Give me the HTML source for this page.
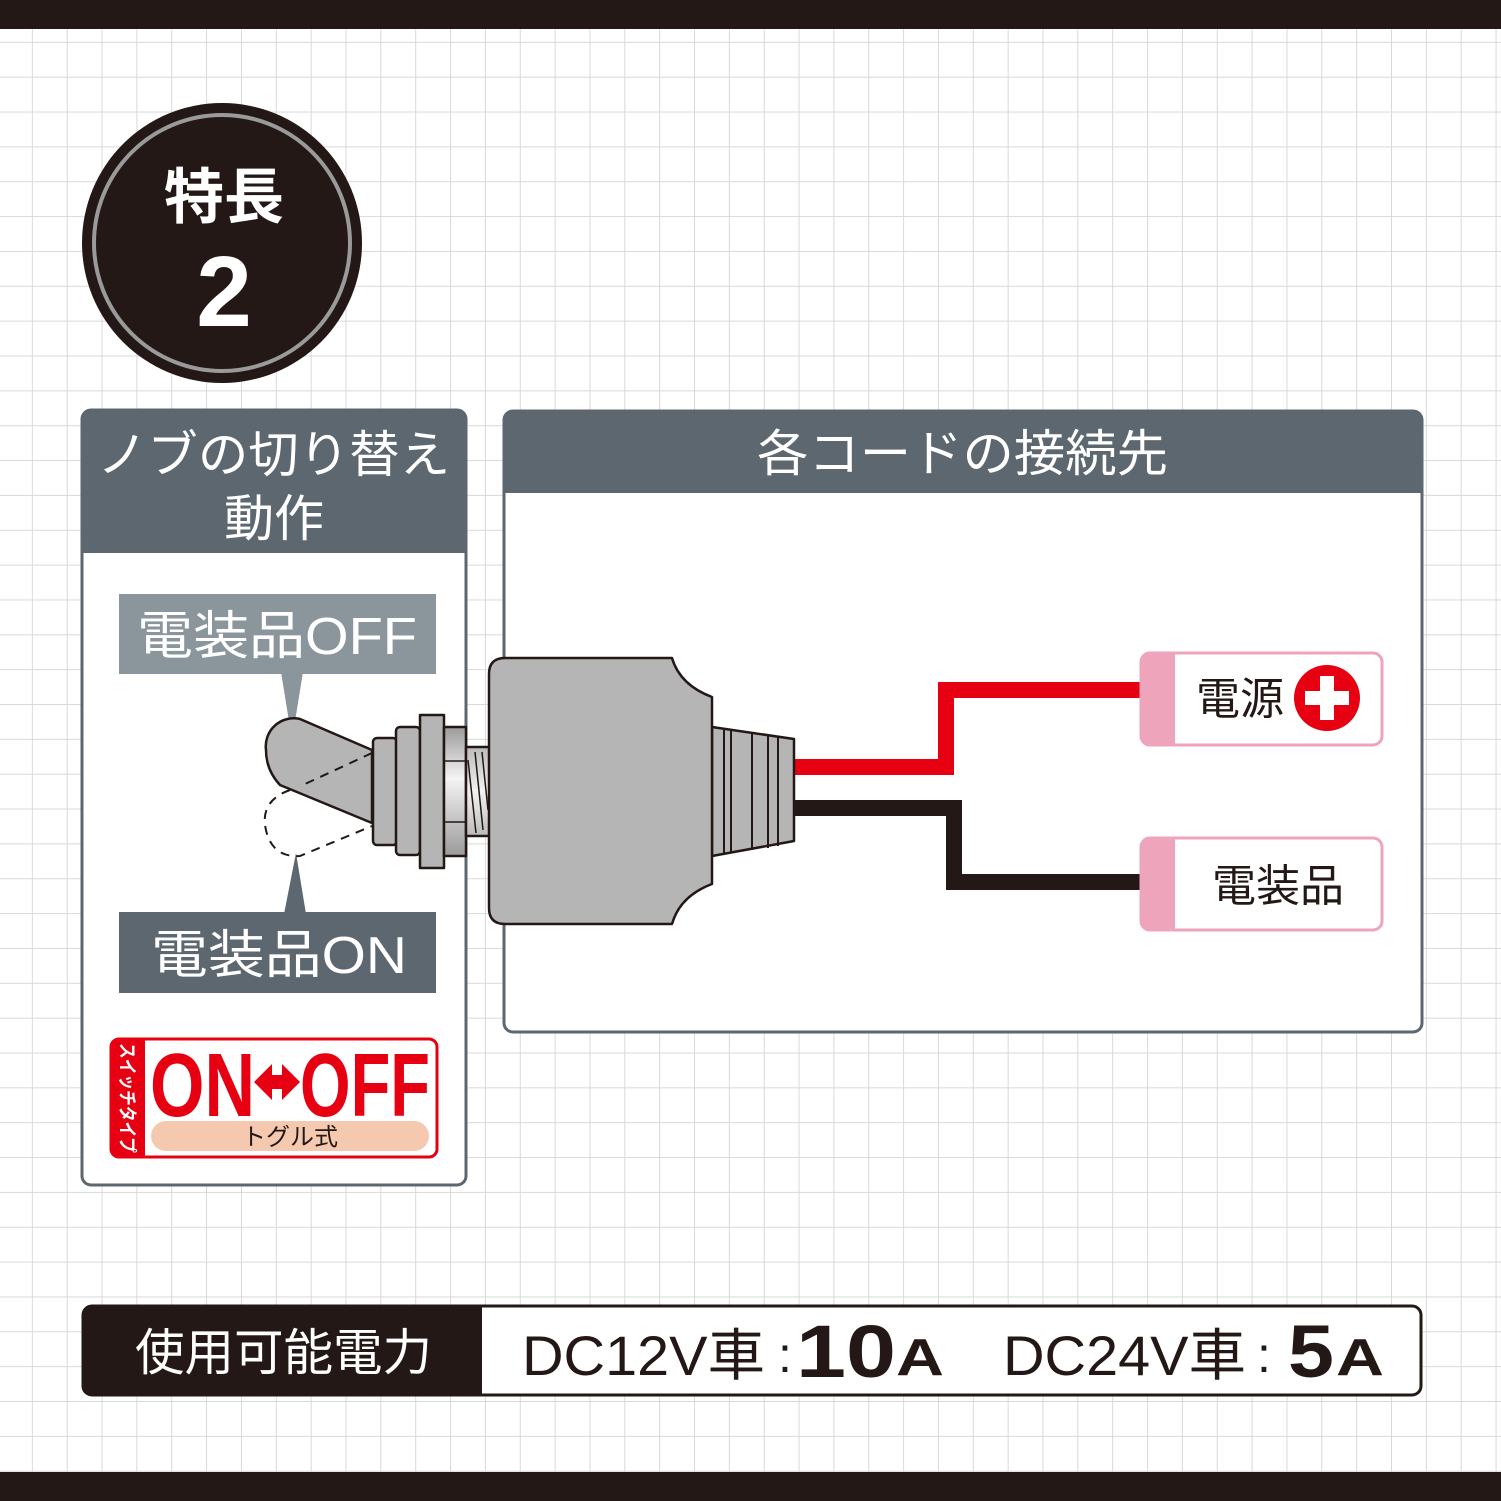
<!DOCTYPE html>
<html><head><meta charset="utf-8"><style>html,body{margin:0;padding:0;background:#fff}svg{display:block}</style></head>
<body>
<svg width="1501" height="1501" viewBox="0 0 1501 1501" xmlns="http://www.w3.org/2000/svg" font-family="'Liberation Sans','Noto Sans CJK JP',sans-serif">
<defs>
<pattern id="g" x="-3" y="7" width="34.85" height="34.85" patternUnits="userSpaceOnUse">
<path d="M0 0H34.85M0 0V34.85" stroke="#d9d9d9" stroke-width="2" fill="none"/>
</pattern>
<linearGradient id="hx" x1="0" y1="0" x2="0" y2="1"><stop offset="0" stop-color="#9a9a9a"/><stop offset="0.4" stop-color="#f4f4f4"/><stop offset="1" stop-color="#9a9a9a"/></linearGradient>
<linearGradient id="th" x1="0" y1="0" x2="0" y2="1"><stop offset="0" stop-color="#bbb"/><stop offset="0.5" stop-color="#f2f2f2"/><stop offset="1" stop-color="#bbb"/></linearGradient>
</defs>
<rect width="1501" height="1501" fill="#fff"/>
<rect width="1501" height="1501" fill="url(#g)"/>
<rect x="0" y="0" width="1501" height="29" fill="#231815"/>
<rect x="0" y="1472" width="1501" height="29" fill="#231815"/>

<circle cx="222" cy="243" r="140" fill="#231815"/>
<circle cx="222" cy="243" r="128" fill="none" stroke="#9a9a9a" stroke-width="4"/>
<text x="224" y="218" font-size="60" font-weight="bold" fill="#fff" text-anchor="middle">特長</text>
<text x="224" y="326" font-size="100" font-weight="bold" fill="#fff" text-anchor="middle">2</text>

<rect x="82" y="410" width="384" height="775" rx="9" fill="#fff" stroke="#5d676f" stroke-width="3"/>
<path d="M82 553V419a9 9 0 0 1 9-9h366a9 9 0 0 1 9 9V553z" fill="#5d676f"/>
<text x="97" y="472" font-size="50" fill="#fff" textLength="353" lengthAdjust="spacingAndGlyphs">ノブの切り替え</text>
<text x="274" y="536" font-size="50" fill="#fff" text-anchor="middle">動作</text>

<rect x="504" y="411" width="918" height="621" rx="9" fill="#fff" stroke="#5d676f" stroke-width="3"/>
<path d="M503 493V419a9 9 0 0 1 9-9h902a9 9 0 0 1 9 9V493z" fill="#5d676f"/>
<text x="757" y="471" font-size="50" fill="#fff" textLength="411" lengthAdjust="spacingAndGlyphs">各コードの接続先</text>

<rect x="119" y="594" width="317" height="80" fill="#8a959c"/>
<text x="277" y="654" font-size="52" fill="#fff" text-anchor="middle" textLength="280" lengthAdjust="spacingAndGlyphs">電装品OFF</text>
<path d="M281 672L303 672L292 740Z" fill="#8a959c"/>
<rect x="119" y="912" width="317" height="81" fill="#5d676f"/>
<text x="279" y="973" font-size="52" fill="#fff" text-anchor="middle" textLength="256" lengthAdjust="spacingAndGlyphs">電装品ON</text>
<path d="M284 914L306 914L296 853Z" fill="#5d676f"/>

<path d="M790 767H946V690H1142" fill="none" stroke="#e60012" stroke-width="16"/>
<path d="M790 808H954V882H1142" fill="none" stroke="#231815" stroke-width="16"/>

<g stroke="#231815" stroke-width="2.5" stroke-linejoin="round">
<path d="M372 750L300 719A28 28 0 0 0 266 750Q266 770 280 785L372 823Z" fill="#b5b5b5"/>
<g fill="none" stroke-dasharray="9 7" stroke-width="2">
<path d="M372 753L305 784"/>
<path d="M290 790Q262 800 265 825Q270 858 300 856L372 826"/>
</g>
<rect x="373" y="738" width="24" height="107" rx="4" fill="#b5b5b5"/>
<rect x="396" y="727" width="24" height="128" rx="4" fill="#b5b5b5"/>
<rect x="420" y="715" width="24" height="153" fill="#b5b5b5"/>
<rect x="444" y="727" width="22" height="129" fill="url(#hx)"/>
<line x1="444" y1="761" x2="466" y2="761" stroke-width="1.5"/>
<line x1="444" y1="822" x2="466" y2="822" stroke-width="1.5"/>
<rect x="466" y="747" width="24" height="89" fill="url(#th)"/>
<g stroke-width="1.5"><line x1="468" y1="760" x2="476" y2="833"/><line x1="475" y1="752" x2="483" y2="830"/><line x1="482" y1="752" x2="488" y2="810"/></g>
<path d="M712 727L794 739L794 841L712 856Z" fill="#b5b5b5"/>
<g stroke-width="2"><line x1="724" y1="729" x2="724" y2="854"/><line x1="731" y1="730" x2="731" y2="853"/><line x1="752" y1="733" x2="752" y2="850"/><line x1="768" y1="735" x2="768" y2="848"/><line x1="778" y1="737" x2="778" y2="846"/></g>
<path d="M505 658H672Q680 685 712 697V884Q680 896 672 924H505Q489 924 489 908V674Q489 658 505 658Z" fill="#b5b5b5"/>
</g>

<g>
<rect x="1141" y="653" width="241" height="92" rx="9" fill="#fff" stroke="#eea4bb" stroke-width="3"/>
<path d="M1150 653H1175V745H1150A9 9 0 0 1 1141 736V662A9 9 0 0 1 1150 653Z" fill="#eea4bb"/>
<text x="1196" y="714" font-size="44" fill="#231815">電源</text>
<circle cx="1327" cy="698" r="33" fill="#e60012"/>
<rect x="1320" y="676" width="14" height="44" fill="#fff"/>
<rect x="1305" y="691" width="44" height="14" fill="#fff"/>
<rect x="1141" y="838" width="241" height="92" rx="9" fill="#fff" stroke="#eea4bb" stroke-width="3"/>
<path d="M1150 838H1175V930H1150A9 9 0 0 1 1141 921V847A9 9 0 0 1 1150 838Z" fill="#eea4bb"/>
<text x="1278" y="901" font-size="44" fill="#231815" text-anchor="middle">電装品</text>
</g>

<rect x="111" y="1039" width="326" height="118" rx="8" fill="#fff" stroke="#e60012" stroke-width="3"/>
<path d="M119 1039H145V1157H119A8 8 0 0 1 111 1149V1047A8 8 0 0 1 119 1039Z" fill="#e60012"/>
<text transform="translate(121 1098) rotate(90)" font-size="19" font-weight="bold" fill="#fff" text-anchor="middle" textLength="110" lengthAdjust="spacingAndGlyphs">スイッチタイプ</text>
<text x="150" y="1116" font-size="90" font-weight="bold" fill="#e60012" textLength="105" lengthAdjust="spacingAndGlyphs">ON</text>
<path d="M254 1082L272 1064V1075H282V1064L300 1082L282 1100V1089H272V1100Z" fill="#e60012"/>
<text x="300" y="1116" font-size="90" font-weight="bold" fill="#e60012" textLength="130" lengthAdjust="spacingAndGlyphs">OFF</text>
<rect x="151" y="1121" width="278" height="30" rx="15" fill="#f5c9b0"/>
<text x="290" y="1145" font-size="24" fill="#231815" text-anchor="middle">トグル式</text>

<rect x="83" y="1306" width="1338" height="89" rx="9" fill="#fff" stroke="#231815" stroke-width="3"/>
<path d="M92 1305H482V1396H92A10 10 0 0 1 82 1386V1315A10 10 0 0 1 92 1305Z" fill="#231815"/>
<text x="135" y="1370" font-size="50" fill="#fff" textLength="297" lengthAdjust="spacingAndGlyphs">使用可能電力</text>
<text x="522" y="1375" font-size="56" fill="#231815" textLength="243" lengthAdjust="spacingAndGlyphs">DC12V車</text>
<text x="778" y="1372" font-size="50" fill="#231815">:</text>
<text x="796" y="1377" font-size="74" font-weight="bold" fill="#231815" textLength="100" lengthAdjust="spacingAndGlyphs">10</text>
<text x="896" y="1375" font-size="52" font-weight="bold" fill="#231815" textLength="48" lengthAdjust="spacingAndGlyphs">A</text>
<text x="1003" y="1375" font-size="56" fill="#231815" textLength="243" lengthAdjust="spacingAndGlyphs">DC24V車</text>
<text x="1257" y="1372" font-size="50" fill="#231815">:</text>
<text x="1288" y="1377" font-size="74" font-weight="bold" fill="#231815" textLength="46" lengthAdjust="spacingAndGlyphs">5</text>
<text x="1336" y="1375" font-size="52" font-weight="bold" fill="#231815" textLength="48" lengthAdjust="spacingAndGlyphs">A</text>
</svg>
</body></html>
